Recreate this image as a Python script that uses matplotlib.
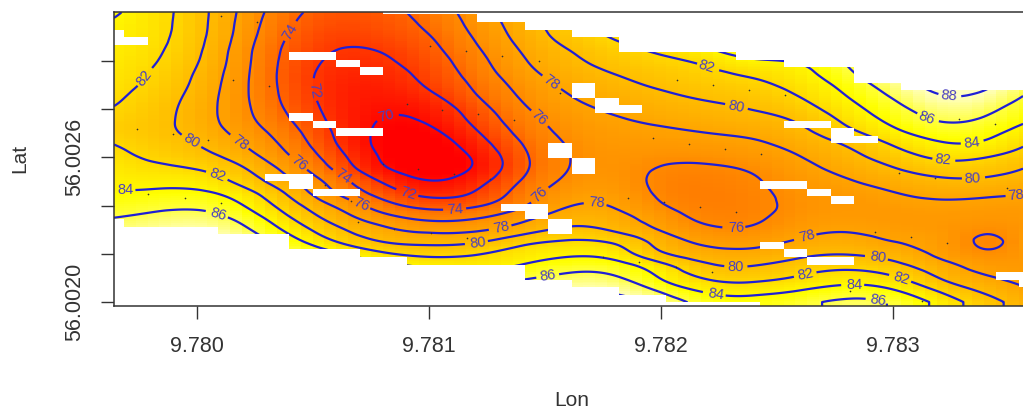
import matplotlib
matplotlib.use('Agg')
import matplotlib.pyplot as plt
import matplotlib.tri as mtri
from matplotlib.colors import LinearSegmentedColormap, ListedColormap
import numpy as np

plt.rcParams['font.family'] = ['Liberation Sans', 'DejaVu Sans']

# surface, one list per lon node, from top lat to bottom lat
lon_nodes = [9.7796 + 0.0002 * i for i in range(21)]
lat_nodes = [56.0032 - 0.00005 * i for i in range(25)]
z_104 = [84.6, 84, 83.8, 83.5, 83.2, 83, 82.8, 82.5, 82.1, 81.6, 81.6, 82.3, 82.9, 83.3, 83.6, 84.2, 85, 85.9, 86.8, 87.6, 88.4, 89, 89.6, 90, 90.5]
z_150 = [83, 82.9, 82.8, 82.6, 82.4, 82.1, 81.8, 81.4, 81.1, 80.9, 80.9, 81.2, 81.7, 82.5, 83.4, 84.3, 85.4, 86.4, 87.4, 88.2, 89, 89.5, 90, 90.4, 90.8]
z_197 = [81, 81, 80.9, 80.7, 80.4, 80, 79.7, 79.4, 79.2, 79.2, 79.5, 80.2, 81, 82.2, 83.5, 84.7, 85.9, 87, 88, 88.8, 89.5, 90, 90.5, 90.8, 91]
z_243 = [77.4, 77.2, 77, 76.7, 76.6, 76.5, 76.4, 76.4, 76.5, 76.7, 77.3, 78.1, 79.2, 80.4, 81.5, 83.1, 84.3, 85.6, 86.7, 87.7, 88.5, 89.2, 89.8, 90.2, 90.6]
z_290 = [74.3, 73.9, 73.5, 73.2, 73, 72.9, 73, 73.2, 73.6, 74.2, 74.9, 75.5, 76.2, 77.3, 78.4, 79.7, 80.8, 82, 83.4, 84.9, 86.3, 87.3, 88, 88.7, 89.3]
z_336 = [73, 72.6, 72.2, 71.8, 71.5, 71.2, 71, 71, 71.1, 71.3, 71.6, 72, 72.8, 73.7, 75, 75.9, 77.7, 79, 80.3, 81.9, 84.3, 85.6, 86.8, 87.6, 88.2]
z_382 = [73.3, 73, 72.6, 72, 71.6, 71.2, 70.8, 70.4, 70, 69.6, 69.3, 69.2, 69.4, 70, 71.6, 73.1, 74.7, 76.6, 78.3, 79.7, 82.2, 84.5, 85.7, 86.5, 87.3]
z_429 = [74.6, 74.2, 73.7, 73.3, 72.9, 72.5, 72.1, 71.3, 70.5, 69.9, 69.2, 68.8, 68.7, 68.9, 69.6, 71, 73, 75.2, 77.3, 79.4, 81.2, 83.6, 85.2, 86.4, 87.3]
z_475 = [76.9, 76.6, 76.2, 75.7, 75.2, 74.8, 74.3, 73.8, 73, 72.4, 71.6, 70.7, 69.9, 69.9, 70.9, 71.9, 73.5, 75.6, 77.5, 79.5, 81.7, 83.2, 85, 86.5, 87.5]
z_522 = [79.4, 79, 78.7, 78.3, 77.9, 77.4, 76.8, 76.3, 75.8, 75.2, 74.7, 74.1, 73.7, 73.7, 74.3, 75, 75.7, 77.3, 79, 81.5, 83, 84.1, 85.7, 87, 88]
z_568 = [81.6, 81.2, 80.8, 80.1, 79.6, 79.1, 78.5, 78, 77.5, 77, 76.6, 76.3, 76.2, 76.3, 76.7, 77.4, 78.3, 79.4, 80.8, 82.4, 83.8, 85.3, 86.7, 87.7, 88.5]
z_615 = [83.5, 82.9, 82.2, 81.5, 80.8, 80.1, 79.5, 78.9, 78.3, 77.8, 77.4, 77.1, 76.9, 76.9, 77.1, 77.5, 78.1, 78.9, 79.9, 82.1, 83.6, 85.3, 86.7, 88, 89]
z_661 = [85.8, 84.8, 83.6, 82.4, 81.6, 80.9, 80.3, 79.6, 79, 78.3, 77.6, 77, 76.3, 75.7, 75.4, 75.5, 76, 76.9, 77.8, 79, 80, 82.6, 83.8, 85.6, 87.5]
z_707 = [88, 86.8, 85, 83.8, 82.4, 81.6, 81, 80.3, 79.5, 78.8, 78, 77.2, 76.4, 75.6, 75.2, 75, 75.1, 75.4, 76.1, 77.3, 78.6, 80, 81.5, 83.2, 84.8]
z_754 = [89.5, 88.2, 87, 85.6, 84, 82.4, 81.5, 80.7, 80, 79.2, 78.3, 77.5, 76.8, 76.1, 75.7, 75.5, 75.4, 75.6, 76.1, 77.2, 78.4, 79.8, 81.2, 83.1, 84.6]
z_800 = [90.5, 88.5, 86.6, 85, 83.9, 83.2, 82.6, 81.9, 81, 80, 79.3, 78.6, 77.9, 77.4, 77, 76.7, 76.6, 76.8, 77.4, 78.4, 79.6, 81, 82.3, 83.9, 85.4]
z_847 = [90, 89, 88, 87, 86.2, 85.5, 84.6, 83.9, 83.2, 82.4, 81.3, 80, 79.3, 78.5, 77.8, 77.2, 77, 77.3, 78, 79, 80.1, 81.7, 83.3, 85, 86.7]
z_893 = [91.5, 90.6, 90, 89.4, 88.8, 88.2, 87.2, 86.2, 85.3, 84.5, 83.4, 82.1, 80.9, 79.8, 78.8, 77.9, 77.3, 77, 77.3, 77.9, 79.3, 80.8, 82.6, 84.4, 86.1]
z_939 = [94, 93, 92, 91, 90.2, 89.5, 88.8, 88.2, 87.3, 86.4, 85.2, 83.9, 82.6, 81.1, 79.7, 78.6, 77.7, 77.2, 77.2, 77.6, 77.6, 78.7, 79.8, 81.6, 83.4]
z_986 = [93, 92, 91, 90.3, 89.7, 89, 88.6, 87.7, 86.7, 85.8, 84.8, 83.8, 82.2, 80.9, 79.7, 78.4, 77.4, 76.8, 75.9, 75, 75.9, 77.1, 78.1, 79.4, 80.7]
z_1032 = [91, 90, 89.3, 88.5, 88, 87.1, 86.3, 85.5, 84.7, 83.9, 82.7, 81.7, 80.7, 79.7, 78.9, 78, 77.4, 77.1, 77.2, 77.6, 77.2, 77.2, 77.4, 78, 78.8]
z_columns = [z_104, z_150, z_197, z_243, z_290, z_336, z_382, z_429, z_475, z_522, z_568,
             z_615, z_661, z_707, z_754, z_800, z_847, z_893, z_939, z_986, z_1032]

# first and last filled raster row in each of the 40 raster columns
first_row = [0]*12 + [1]*4 + [2]*2 + [3]*2 + [4]*2 + [6]*5 + [7]*2 + [8]*3 + [10]*2 + [11]*6
last_row = [27] + [28]*4 + [29]*3 + [31]*3 + [32]*2 + [33]*5 + [35]*2 + [36]*2 + [37]*2 + [38]*4 + [39]*12

# empty raster cells inside the surface (column, row)
na_cells = [(0, 3), (0, 4), (1, 4), (8, 6), (9, 6), (10, 7), (11, 8), (8, 14), (9, 15), (10, 16), (11, 16),
            (7, 22), (8, 22), (8, 23), (9, 24), (10, 24), (20, 10), (20, 11), (21, 12), (21, 13), (22, 13),
            (19, 18), (19, 19), (20, 20), (20, 21), (17, 26), (18, 26), (18, 27), (19, 28), (19, 29),
            (29, 15), (30, 15), (31, 16), (31, 17), (32, 17), (28, 23), (29, 23), (30, 24), (31, 25),
            (28, 31), (29, 32), (30, 33), (31, 33), (38, 35), (39, 35), (39, 36)]

# sampling points
point_lon = [9.780102, 9.780257, 9.780156, 9.780310, 9.779740, 9.779895, 9.780049, 9.780904, 9.780800, 9.779790,
             9.779948, 9.780102, 9.780552, 9.780663, 9.780693, 9.780849, 9.781004, 9.781159, 9.781316, 9.781474,
             9.781057, 9.781213, 9.781368, 9.780954, 9.781109, 9.781264, 9.781007, 9.781163, 9.781565, 9.782068,
             9.782223, 9.781967, 9.782121, 9.781856, 9.782013, 9.782168, 9.781751, 9.781906, 9.782063, 9.782219,
             9.782379, 9.782534, 9.783126, 9.783283, 9.783440, 9.782276, 9.782432, 9.783025, 9.783180, 9.783491,
             9.782325, 9.782921, 9.783076, 9.783233, 9.782813, 9.783125]
point_lat = [56.003187, 56.003162, 56.002920, 56.002897, 56.002716, 56.002695, 56.002671, 56.002819, 56.002572, 56.002448,
             56.002430, 56.002409, 56.002485, 56.002419, 56.002330, 56.002304, 56.003062, 56.003042, 56.003020, 56.003000,
             56.002796, 56.002778, 56.002754, 56.002550, 56.002531, 56.002510, 56.002285, 56.002264, 56.002865, 56.002920,
             56.002900, 56.002679, 56.002654, 56.002432, 56.002413, 56.002393, 56.002185, 56.002165, 56.002144, 56.002123,
             56.002879, 56.002858, 56.002779, 56.002759, 56.002738, 56.002634, 56.002612, 56.002533, 56.002513, 56.002471,
             56.002372, 56.002291, 56.002271, 56.002246, 56.002046, 56.002004]

contour_levels = list(range(70, 90, 2))
x_ticks = [9.780, 9.781, 9.782, 9.783]
y_ticks = [56.0020, 56.0022, 56.0024, 56.0026, 56.0028, 56.0030]
y_tick_labels = ['56.0020', '', '', '56.0026', '', '']

# contour label spots as measured in image pixels
label_spots = [(149, 81), (192, 140), (240, 143), (298, 165), (287, 30), (316, 90), (385, 113), (218, 175),
               (125, 192), (219, 213), (360, 207), (341, 180), (407, 198), (455, 213), (502, 229), (478, 246),
               (540, 195), (537, 120), (548, 87), (597, 201), (548, 275), (715, 298), (706, 69), (736, 107),
               (736, 233), (807, 236), (736, 270), (806, 275), (878, 258), (902, 277), (854, 284), (878, 299),
               (948, 103), (925, 122), (972, 146), (943, 162), (972, 180), (1016, 196)]


def px_lon(px):
    return 9.78 + (np.asarray(px, dtype=float) - 197) / 232000


def px_lat(py):
    return 56.002 + (302 - np.asarray(py, dtype=float)) * 0.0002 / 48.25


fig = plt.figure(figsize=(10.23, 4.18), dpi=100)
ax = fig.add_axes([114 / 1023, 112 / 418, 909 / 1023, 294 / 418])

# light smoothing along lon takes the reading jitter out of the contours
z_grid = np.array(z_columns).T
z_smooth = z_grid.copy()
z_smooth[:, 1:-1] = 0.7 * z_grid[:, 1:-1] + 0.15 * (z_grid[:, :-2] + z_grid[:, 2:])

ui, vi = np.meshgrid(np.arange(len(lon_nodes)), np.arange(len(lat_nodes)))
tri = mtri.Triangulation(ui.ravel().astype(float), vi.ravel().astype(float))
interp = mtri.CubicTriInterpolator(tri, z_smooth.ravel(), kind='min_E')


def surface(lon, lat):
    u = np.clip((lon - lon_nodes[0]) / 0.0002, 0, len(lon_nodes) - 1)
    v = np.clip((lat_nodes[0] - lat) / 0.00005, 0, len(lat_nodes) - 1)
    return interp(u, v)


# raster of 40 x 40 cells for the mask, colour drawn finer so the bands stay faint
col_edges = px_lon(100.6 + 23.55 * np.arange(41))
row_edges = px_lat(6.8 + 7.58 * np.arange(41))
fine_col_edges = px_lon(100.6 + 23.55 / 2 * np.arange(81))
fine_row_edges = px_lat(6.8 + 7.58 / 4 * np.arange(161))
fine_col_mid = (fine_col_edges[:-1] + fine_col_edges[1:]) / 2
fine_row_mid = (fine_row_edges[:-1] + fine_row_edges[1:]) / 2
mesh_lon, mesh_lat = np.meshgrid(fine_col_mid, fine_row_mid)
cells = np.ma.filled(surface(mesh_lon, mesh_lat), np.nan)

outside = np.ones((40, 40), dtype=bool)
for c in range(40):
    outside[first_row[c]:last_row[c] + 1, c] = False
for c, r in na_cells:
    outside[r, c] = True

v0, v1 = 69.5, 88
heat_stops = [(69.5, '#ff0000'), (71, '#ff2000'), (73, '#ff5000'), (75, '#ff7c00'), (77, '#ff9800'),
              (79, '#ffb000'), (81, '#ffc800'), (83, '#ffe800'), (84.5, '#ffff00'), (86, '#ffff40'),
              (88, '#ffffc0')]
heat = LinearSegmentedColormap.from_list('heat', [((v - v0) / (v1 - v0), c) for v, c in heat_stops])
ax.pcolormesh(fine_col_edges, fine_row_edges, cells, cmap=heat, vmin=v0, vmax=v1, zorder=1)

# contours on a finer grid, then white cells laid over them
fine_lon = np.linspace(px_lon(114), px_lon(1023), 460)
fine_lat = np.linspace(px_lat(306), px_lat(12), 300)
flon, flat = np.meshgrid(fine_lon, fine_lat)
cs = ax.contour(flon, flat, surface(flon, flat), levels=contour_levels,
                colors='#1f1fd6', linewidths=1.6, zorder=2)
ax.pcolormesh(col_edges, row_edges, np.ma.masked_where(~outside, np.ones((40, 40))),
              cmap=ListedColormap(['white']), zorder=3)

spots = [(px_lon(x), px_lat(y)) for x, y in label_spots]
labels = ax.clabel(cs, fmt='%d', fontsize=10.5, colors='#4a40c0', inline=True, inline_spacing=3,
                   manual=spots)
for t in labels:
    t.set_zorder(5)

ax.scatter(point_lon, point_lat, marker='+', s=4, linewidths=0.4, color='#333333', zorder=4)

ax.set_xlim(px_lon(114), px_lon(1023))
ax.set_ylim(px_lat(306), px_lat(12))
ax.set_xticks(x_ticks)
ax.set_xticklabels(['%.3f' % v for v in x_ticks], fontsize=15.5, color='#333333')
ax.set_yticks(y_ticks)
ax.set_yticklabels(y_tick_labels, fontsize=15.5, color='#333333', rotation=90, va='center')
ax.tick_params(axis='x', length=9.4, width=1, color='#333333', pad=12)
ax.tick_params(axis='y', length=9.4, width=1, color='#333333', pad=11)

ax.set_xlabel('Lon', fontsize=15, color='#333333', va='center')
ax.xaxis.set_label_coords(0.504, -95 / 294)
ax.set_ylabel('Lat', fontsize=15, color='#333333', va='center')
ax.yaxis.set_label_coords(-94 / 909, 0.503)

ax.spines['right'].set_visible(False)
for side in ['top', 'bottom', 'left']:
    ax.spines[side].set_linewidth(1.1)
    ax.spines[side].set_color('#333333')
    ax.spines[side].set_zorder(6)

plt.savefig('out.png', dpi=100)
